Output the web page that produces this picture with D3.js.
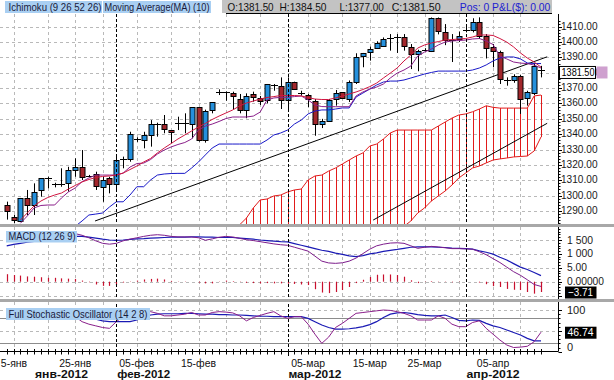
<!DOCTYPE html>
<html><head><meta charset="utf-8">
<script src="https://cdn.jsdelivr.net/npm/d3@7"></script>
<style>body{margin:0;background:#fff}svg{display:block}text{font-family:"Liberation Sans",Arial,sans-serif}</style>
</head><body><svg id="c" width="614" height="380"></svg>
<script>
// ---------------- DATA ----------------
const dates = ["2012-01-13","2012-01-15","2012-01-16","2012-01-17","2012-01-18","2012-01-19","2012-01-20","2012-01-22","2012-01-23","2012-01-24",
"2012-01-25","2012-01-26","2012-01-27","2012-01-29","2012-01-30","2012-01-31","2012-02-01","2012-02-02","2012-02-03","2012-02-05",
"2012-02-06","2012-02-07","2012-02-08","2012-02-09","2012-02-10","2012-02-12","2012-02-13","2012-02-14","2012-02-15","2012-02-16",
"2012-02-17","2012-02-19","2012-02-20","2012-02-21","2012-02-22","2012-02-23","2012-02-24","2012-02-26","2012-02-27","2012-02-28",
"2012-02-29","2012-03-01","2012-03-02","2012-03-04","2012-03-05","2012-03-06","2012-03-07","2012-03-08","2012-03-09","2012-03-11",
"2012-03-12","2012-03-13","2012-03-14","2012-03-15","2012-03-16","2012-03-18","2012-03-19","2012-03-20","2012-03-21","2012-03-22",
"2012-03-23","2012-03-25","2012-03-26","2012-03-27","2012-03-28","2012-03-29","2012-03-30","2012-04-01","2012-04-02","2012-04-03",
"2012-04-04","2012-04-05","2012-04-06","2012-04-08","2012-04-09","2012-04-10","2012-04-11","2012-04-12","2012-04-13"];
const open = [1293.9,1285.9,1283.5,1298.3,1293.9,1303.7,1311.5,1307.6,1307.6,1308.0,
1317.1,1318.8,1312.8,1313.9,1305.8,1311.3,1307.6,1323.7,1323.7,1336.5,
1336.2,1339.5,1346.6,1346.4,1342.7,1347.0,1347.0,1346.4,1357.5,1336.2,
1355.8,1367.6,1367.6,1366.6,1362.7,1355.8,1366.0,1363.4,1362.3,1372.1,
1371.2,1361.8,1374.2,1366.7,1365.7,1361.8,1346.2,1348.8,1362.9,1367.3,
1362.9,1373.8,1390.7,1393.1,1395.9,1397.6,1402.2,1402.9,1403.1,1396.6,
1392.2,1394.5,1394.0,1415.5,1406.3,1401.2,1402.0,1407.8,1407.4,1412.9,
1404.1,1396.6,1393.3,1375.4,1375.3,1378.1,1363.6,1367.3,1381.5];
const high = [1296.1,1287.4,1298.5,1303.7,1308.0,1311.3,1312.3,1308.4,1317.8,1318.8,
1324.3,1329.7,1313.5,1315.6,1312.3,1312.3,1325.4,1325.4,1341.6,1338.0,
1341.6,1349.2,1347.5,1352.5,1342.7,1351.4,1353.6,1357.5,1357.5,1356.0,
1360.8,1369.2,1367.9,1367.7,1366.2,1366.6,1367.7,1364.9,1372.7,1372.7,
1377.0,1377.0,1374.2,1368.3,1366.2,1362.9,1350.0,1362.9,1368.8,1367.3,
1375.0,1392.7,1392.9,1397.0,1400.5,1403.0,1405.2,1405.2,1405.2,1398.7,
1395.0,1396.0,1416.0,1416.0,1411.7,1405.2,1406.9,1410.0,1415.5,1416.1,
1405.2,1398.7,1394.4,1377.0,1379.0,1378.5,1368.3,1386.2,1384.5];
const low = [1284.4,1282.0,1283.0,1287.4,1287.4,1299.3,1304.8,1305.4,1305.8,1302.6,
1312.3,1310.2,1312.0,1303.7,1296.0,1301.5,1302.6,1317.8,1322.1,1335.0,
1330.8,1331.9,1338.4,1340.6,1334.1,1342.7,1340.6,1337.3,1335.2,1334.5,
1353.6,1365.5,1361.8,1355.8,1353.6,1350.4,1361.2,1359.0,1360.0,1368.3,
1356.4,1355.3,1369.4,1365.0,1357.5,1339.0,1344.0,1348.4,1358.6,1362.9,
1361.0,1372.7,1383.6,1387.9,1395.5,1397.0,1394.4,1392.9,1394.4,1382.4,
1381.0,1394.0,1393.5,1405.0,1398.0,1387.0,1400.0,1406.3,1406.3,1402.0,
1389.3,1383.6,1372.7,1371.6,1373.5,1353.2,1358.6,1365.5,1377.0];
const close = [1290.2,1284.1,1298.3,1293.5,1302.6,1311.3,1311.8,1307.8,1307.8,1316.7,
1318.8,1312.3,1312.9,1305.8,1310.2,1307.6,1323.2,1323.9,1340.1,1336.9,
1339.5,1346.4,1346.8,1343.2,1341.6,1347.2,1347.2,1357.5,1335.8,1355.1,
1360.8,1367.8,1367.8,1364.4,1355.8,1365.1,1364.0,1361.4,1372.7,1372.3,
1361.8,1373.8,1369.4,1366.9,1362.9,1346.6,1348.4,1362.3,1366.6,1363.6,
1373.8,1390.0,1392.9,1395.3,1399.2,1402.0,1402.5,1403.1,1397.2,1391.8,
1394.4,1395.0,1415.5,1407.2,1400.9,1401.4,1404.1,1408.1,1412.9,1404.1,
1396.6,1394.0,1375.9,1375.6,1378.1,1362.9,1367.3,1384.6,1381.5];
const ma10 = [null,null,1284.1,1288.7,1293.3,1296.5,1298.8,1300.4,1301.7,1304.3,
1306.6,1308.9,1310.5,1311.8,1312.5,1312.8,1313.4,1314.7,1317.0,1319.3,
1321.9,1324.2,1327.8,1331.0,1333.9,1336.9,1339.5,1342.1,1344.7,1347.0,
1349.6,1351.8,1353.8,1355.8,1358.4,1360.3,1361.6,1362.9,1363.9,1364.5,
1365.2,1365.2,1365.2,1364.9,1363.9,1362.9,1362.6,1362.6,1363.6,1364.9,
1366.2,1367.5,1369.1,1371.0,1373.3,1376.6,1379.8,1383.1,1387.7,1391.6,
1396.1,1398.1,1399.4,1400.3,1401.3,1401.6,1402.0,1402.3,1403.3,1404.6,
1404.6,1404.3,1402.3,1400.0,1396.8,1392.9,1389.6,1387.0,1383.7];
const tenkan = [null,null,1282.0,1286.7,1292.0,1293.6,1293.9,1293.9,1298.5,1302.4,
1305.0,1309.1,1311.5,1313.4,1313.4,1313.4,1313.4,1314.7,1318.6,1320.9,
1321.2,1323.5,1327.1,1329.7,1331.7,1333.3,1334.6,1336.9,1342.7,1345.3,
1346.6,1348.3,1350.2,1351.2,1351.2,1351.2,1351.8,1354.4,1362.3,1363.6,
1364.0,1364.0,1364.5,1364.9,1362.3,1359.0,1358.0,1357.9,1357.9,1357.9,
1357.9,1364.9,1367.5,1369.4,1370.7,1372.7,1376.6,1379.8,1381.8,1384.4,
1390.9,1393.5,1395.5,1398.1,1400.0,1400.7,1401.0,1401.3,1402.0,1402.3,
1400.7,1398.4,1390.9,1389.0,1387.0,1386.3,1386.0,1385.0,1383.1];
const kijun = [null,null,null,null,null,null,null,null,null,null,
1280.0,1283.5,1287.4,1288.0,1288.7,1292.6,1296.0,1296.0,1300.4,1305.8,
1305.8,1310.2,1313.4,1314.1,1314.4,1314.5,1314.5,1318.0,1321.9,1326.5,
1331.0,1333.6,1333.6,1333.6,1333.6,1333.6,1333.6,1333.6,1336.2,1339.5,
1340.8,1342.7,1346.6,1349.2,1353.2,1355.1,1355.8,1355.8,1356.4,1357.1,
1357.1,1364.2,1366.8,1369.4,1372.0,1374.0,1374.6,1374.6,1375.3,1376.6,
1377.9,1379.2,1380.2,1381.1,1381.1,1381.1,1381.1,1381.1,1381.8,1383.1,
1385.1,1387.7,1389.6,1390.3,1390.3,1389.0,1386.4,1386.0,1386.0];
const senkouA = [null,null,null,null,null,null,null,null,null,null,
null,null,null,null,null,null,null,null,null,null,
null,null,null,null,null,null,null,null,null,null,
null,null,null,null,1281.0,1285.4,1292.0,1297.2,1297.8,1299.8,
1300.4,1302.4,1303.7,1304.3,1310.2,1312.8,1313.4,1316.0,1318.0,1320.6,
1323.2,1325.8,1327.8,1332.3,1333.6,1336.9,1340.8,1342.7,1342.7,1342.7,
1342.7,1342.7,1342.7,1345.3,1347.9,1350.5,1352.5,1353.2,1354.6,1356.4,
1358.5,1357.5,1357.0,1357.0,1357.0,1357.0,1357.0,1364.9,1365.5];
const senkouB = [null,null,null,null,null,null,null,null,null,null,
null,null,null,null,null,null,null,null,null,null,
null,null,null,null,null,null,null,null,null,null,
null,null,null,null,1262.0,1263.0,1264.0,1265.0,1266.0,1267.0,
1268.0,1269.0,1270.0,1271.0,1272.0,1272.5,1273.0,1273.5,1274.0,1275.0,
1275.5,1276.0,1276.5,1277.0,1277.5,1278.0,1278.5,1279.0,1280.0,1283.5,
1288.7,1292.0,1296.5,1299.8,1303.0,1306.9,1311.5,1314.7,1318.0,1319.3,
1321.3,1323.2,1323.9,1324.5,1325.2,1325.5,1325.8,1329.1,1338.2];
const trendFrom = [[12.9,1283.5],[53.5,1284.1]];
const trendTo   = [[78.9,1390.4],[78.9,1347.1]];
const macd = [15.6,15.8,16,16.1,16.3,16.5,16.7,16.9,17,17.2,
17.3,16.7,15.8,14.7,13.8,13.5,13.8,14.7,15.3,15.8,
16.3,16.7,16.9,16.7,16.3,16.1,16.1,16.1,15.8,14.9,
15.4,16,16.3,16.1,15.6,15.1,14.8,14.4,14,13.6,
13.3,13.1,12.4,11.7,11,9.2,7.4,6.75,6.6,6.8,
7.4,8.5,10.1,11.7,12.9,13.5,13.9,14,13.8,12.9,
12,12.4,12.7,12.5,12.2,11.9,11.9,11.8,11.7,10.8,
9.7,8.3,6.9,5.25,3.6,2.3,0.7,-1,-1.7];
const signal = [12.9,13.4,13.8,14.2,14.5,14.9,15.3,15.5,15.8,16.1,
16.3,16.3,16,15.7,15.3,15,14.9,15,15.2,15.4,
15.5,15.7,15.8,15.9,16,16,16,16.1,16.1,16,
16,15.9,15.9,15.9,15.7,15.5,15.3,15,14.8,14.6,
14.4,14.3,13.7,13.1,12.5,11.9,11.3,10.9,10.3,9.8,
9.3,9,9.4,10,10.4,10.9,11.3,11.6,12,12.4,
12.5,12.5,12.5,12.4,12.3,12.1,12,11.9,11.7,11.1,
10.6,9.9,8.8,7.8,6.5,5.25,4.4,3.3,2.2];
const hist = [2.7,2.4,2.2,1.9,1.8,1.6,1.4,1.4,1.2,1.1,
1.0,0.4,-0.2,-1.0,-1.5,-1.5,-1.1,-0.3,0.1,0.4,
0.8,1.0,1.1,0.8,0.3,0.1,0.1,0.0,-0.3,-0.6,
-0.6,0.1,0.4,0.2,-0.1,-0.4,-0.5,-0.6,-0.5,-0.6,
-0.6,-0.7,-0.8,-1.0,-1.2,-2.7,-3.9,-4.1,-3.7,-3.0,
-1.9,-0.5,0.7,1.7,2.5,2.6,2.6,2.4,1.8,0.5,
-0.5,-0.1,0.2,0.1,-0.1,-0.2,-0.1,-0.1,0.0,-0.3,
-0.9,-1.6,-1.9,-2.6,-2.9,-3.0,-3.7,-4.3,-3.71];
const stochK = [92,90,92,90,94,94,92,88,86,90,
84,72,66,62,58,56,72,84,92,94,
95,96,92,86,86,88,90,94,88,88,
94,96,95,93,86,74,82,87,92,96,
86,80,84,84,66,42,20,35,58,68,
80,92,94,96,98,100,99,96,92,86,
76,76,76,86,80,66,60,60,70,74,
56,42,28,16,10,11,13,24,46.74];
const stochD = [86,86,87,88,89,90,91,91,90,89,
88,86,82,78,74,72,72,72,72,76,
82,88,90,91,91,91,92,92,91,90,
90,89,89,88,88,87,86,85,85,84,
84,84,84,84,80,72,64,58,54,54,
55,57,60,65,72,82,90,93,94,92,
89,87,86,86,88,82,75,74,76,75,
68,62,58,52,46,40,32,26,26];
const priceTicks = [1290,1300,1310,1320,1330,1340,1350,1360,1370,1380,1390,1400,1410];
const macdTicks = [15,10,5,0];
const macdTickLabels = ["1 500","1 000","5.00","0.00000"];
const stochTicks = [100,0];
const stochTickLabels = ["100","0"];
const gridDates = ["2012-01-15","2012-01-20","2012-01-25","2012-01-30","2012-02-05","2012-02-10","2012-02-15","2012-02-20","2012-02-26",
"2012-03-05","2012-03-11","2012-03-15","2012-03-20","2012-03-25","2012-03-30","2012-04-05","2012-04-10"];
const monthStarts = ["2012-02-01","2012-03-01","2012-04-01"];
const tickDates = ["2012-01-15","2012-01-25","2012-02-05","2012-02-15","2012-03-05","2012-03-15","2012-03-25","2012-04-05"];
const tickLabels = ["5-янв","25-янв","05-фев","15-фев","05-мар","15-мар","25-мар","05-апр"];
const monthLabelDates = ["2012-01-23","2012-02-06","2012-03-06","2012-04-05"];
const monthLabels = ["янв-2012","фев-2012","мар-2012","апр-2012"];
const headerLeft = ["Ichimoku (9 26 52 26)","Moving Average(MA) (10)"];
const ohlcLabels = ["O:1381.50","H:1384.50","L:1377.00","C:1381.50"];
const posLabel = "Pos: 0 P&L($): 0.00";
const lastPrice = 1381.5, lastHist = -3.71, lastK = 46.74;

// ---------------- LAYOUT ----------------
const svg = d3.select("#c");
const PR = 558;
const P = {mainTop:14, mainBot:224, macdTop:227, macdBot:299, stTop:302, stBot:351.7};
const x = d3.scaleLinear().domain([0, dates.length-1]).range([6.7, 541]);
const yM = d3.scaleLinear().domain([1290,1410]).range([211,26.7]);
const yD = d3.scaleLinear().domain([0,15]).range([281.7,240]);
const yS = d3.scaleLinear().domain([0,100]).range([351.7,310]);
const bi = d => dates.indexOf(d);
const cx = i => Math.round(x(i)) + 0.5;

const defs = svg.append("defs");
[["cm",P.mainTop,P.mainBot],["cd",P.macdTop,P.macdBot],["cs",P.stTop,P.stBot+0.5]].forEach(([id,t,b])=>{
  defs.append("clipPath").attr("id",id).append("rect").attr("x",0).attr("y",t).attr("width",PR).attr("height",b-t);
});

function fit(sel, w){ sel.attr("textLength", w).attr("lengthAdjust","spacingAndGlyphs"); return sel; }
function fitF(sel, f){ sel.each(function(){ const w=this.getComputedTextLength(); this.setAttribute("textLength", w*f); this.setAttribute("lengthAdjust","spacingAndGlyphs");}); return sel; }

// panels grid
const grid = svg.append("g");
[[P.mainTop,P.mainBot],[P.macdTop,P.macdBot],[P.stTop,P.stBot]].forEach(([t,b])=>{
  grid.selectAll(null).data(gridDates).enter().append("line")
    .attr("x1",d=>cx(bi(d))).attr("x2",d=>cx(bi(d))).attr("y1",t).attr("y2",b)
    .attr("stroke","#b9b9b9").attr("stroke-dasharray","3,3");
});
grid.selectAll(null).data(priceTicks).enter().append("line")
  .attr("x1",0).attr("x2",PR).attr("y1",d=>Math.round(yM(d))+0.5).attr("y2",d=>Math.round(yM(d))+0.5)
  .attr("stroke","#b9b9b9").attr("stroke-dasharray","3,3");
grid.selectAll(null).data([15,10,5,0,-5]).enter().append("line")
  .attr("x1",0).attr("x2",PR).attr("y1",d=>Math.round(yD(d))+0.5).attr("y2",d=>Math.round(yD(d))+0.5)
  .attr("stroke","#b9b9b9").attr("stroke-dasharray","3,3");
grid.selectAll(null).data([100,50]).enter().append("line")
  .attr("x1",0).attr("x2",PR).attr("y1",d=>Math.round(yS(d))+0.5).attr("y2",d=>Math.round(yS(d))+0.5)
  .attr("stroke","#b9b9b9").attr("stroke-dasharray","3,3");
grid.selectAll(null).data([80,20]).enter().append("line")
  .attr("x1",0).attr("x2",PR).attr("y1",d=>Math.round(yS(d))+0.5).attr("y2",d=>Math.round(yS(d))+0.5)
  .attr("stroke","#8c8c8c").attr("stroke-width",1);

// ---------------- MAIN PANEL ----------------
const gm = svg.append("g").attr("clip-path","url(#cm)");
const cloudIdx = d3.range(dates.length).filter(i=>senkouA[i]!=null && senkouB[i]!=null);
gm.selectAll(null).data(cloudIdx).enter().append("line")
  .attr("x1",i=>cx(i)).attr("x2",i=>cx(i)).attr("y1",i=>yM(senkouA[i])).attr("y2",i=>yM(senkouB[i]))
  .attr("stroke","#e11a1a").attr("stroke-width",1);
const lineOf = (arr, ys) => d3.line().defined(i=>arr[i]!=null).x(i=>x(i)).y(i=>ys(arr[i]));
const all = d3.range(dates.length);
gm.append("path").attr("d",lineOf(senkouA,yM)(all)).attr("fill","none").attr("stroke","#e11a1a").attr("stroke-width",1);
gm.append("path").attr("d",lineOf(senkouB,yM)(all)).attr("fill","none").attr("stroke","#e11a1a").attr("stroke-width",1);
gm.selectAll(null).data(d3.range(trendFrom.length)).enter().append("line")
  .attr("x1",k=>x(trendFrom[k][0])).attr("y1",k=>yM(trendFrom[k][1]))
  .attr("x2",k=>x(trendTo[k][0])).attr("y2",k=>yM(trendTo[k][1]))
  .attr("stroke","#000").attr("stroke-width",1);
const cg = gm.append("g");
all.forEach(i=>{
  const o=open[i], c=close[i], h=high[i], l=low[i];
  const xx = cx(i);
  cg.append("line").attr("x1",xx).attr("x2",xx).attr("y1",yM(h)).attr("y2",yM(l)).attr("stroke","#000").attr("stroke-width",1);
  if (Math.abs(c-o) < 0.6) {
    cg.append("line").attr("x1",xx-3.5).attr("x2",xx+3.5).attr("y1",Math.round(yM(c))+0.5).attr("y2",Math.round(yM(c))+0.5).attr("stroke","#000").attr("stroke-width",1);
  } else {
    const top = yM(Math.max(o,c)), bot = yM(Math.min(o,c));
    cg.append("rect").attr("x",xx-2.5).attr("y",Math.round(top)+0.5).attr("width",5).attr("height",Math.max(1,Math.round(bot-top)))
      .attr("fill", c>o ? "#2590dc" : "#a2272c").attr("stroke","#000").attr("stroke-width",1);
  }
});
gm.append("path").attr("d",lineOf(kijun,yM)(all)).attr("fill","none").attr("stroke","#1818c8").attr("stroke-width",1);
gm.append("path").attr("d",lineOf(tenkan,yM)(all)).attr("fill","none").attr("stroke","#8a1f8a").attr("stroke-width",1);
gm.append("path").attr("d",lineOf(ma10,yM)(all)).attr("fill","none").attr("stroke","#cf1540").attr("stroke-width",1);

// ---------------- MACD PANEL ----------------
const gd = svg.append("g").attr("clip-path","url(#cd)");
gd.selectAll(null).data(all).enter().append("line")
  .attr("x1",i=>cx(i)).attr("x2",i=>cx(i)).attr("y1",yD(0)).attr("y2",i=>yD(hist[i]))
  .attr("stroke","#c8102e").attr("stroke-width",1.2);
gd.append("path").attr("d",lineOf(signal,yD)(all)).attr("fill","none").attr("stroke","#1a1ab4").attr("stroke-width",1.2);
gd.append("path").attr("d",lineOf(macd,yD)(all)).attr("fill","none").attr("stroke","#7d1d8c").attr("stroke-width",1);

// ---------------- STOCH PANEL ----------------
const gs = svg.append("g").attr("clip-path","url(#cs)");
gs.append("path").attr("d",lineOf(stochD,yS)(all)).attr("fill","none").attr("stroke","#1a1ab4").attr("stroke-width",1.2);
gs.append("path").attr("d",lineOf(stochK,yS)(all)).attr("fill","none").attr("stroke","#8a1f8a").attr("stroke-width",1);

svg.selectAll(null).data(monthStarts).enter().append("line")
  .attr("x1",d=>cx(bi(d))).attr("x2",d=>cx(bi(d))).attr("y1",P.mainTop).attr("y2",356)
  .attr("stroke","#000").attr("stroke-dasharray","3,2").attr("stroke-width",1);

svg.append("rect").attr("x",0).attr("y",224).attr("width",614).attr("height",3).attr("fill","#a8a8a8");
svg.append("rect").attr("x",0).attr("y",299).attr("width",614).attr("height",3).attr("fill","#a8a8a8");

const lbl = (x0,y0,w,h,t,tw) => {
  svg.append("rect").attr("x",x0).attr("y",y0).attr("width",w).attr("height",h).attr("fill","#a9cff2");
  fit(svg.append("text").attr("x",x0+2.5).attr("y",y0+h-2.5).attr("font-size",11).attr("fill","#1a1a3a").text(t), tw);
};
lbl(6,231,71,11.5,"MACD (12 26 9)",67);
lbl(6,308,144,12,"Full Stochastic Oscillator (14 2 8)",139);

// ---------------- AXES ----------------
const ax = svg.append("g");
[[P.mainTop,P.mainBot],[P.macdTop,P.macdBot],[P.stTop,P.stBot]].forEach(([t,b])=>{
  ax.append("line").attr("x1",PR+0.5).attr("x2",PR+0.5).attr("y1",t).attr("y2",b).attr("stroke","#000");
});
ax.selectAll(null).data(d3.range(1282,1416,2)).enter().append("line")
  .attr("x1",PR+0.5).attr("x2",d=>d%10===0?PR+4:PR+2.5).attr("y1",d=>Math.round(yM(d))+0.5).attr("y2",d=>Math.round(yM(d))+0.5)
  .attr("stroke","#000");
ax.selectAll(null).data(priceTicks).enter().append("text")
  .attr("x",561).attr("y",d=>yM(d)+3).attr("font-size",11).attr("fill","#1a1a1a").text(d=>d3.format(".2f")(d))
  .call(s=>fit(s,36.5));
const lpY = yM(lastPrice)+1.5;
ax.append("rect").attr("x",559.5).attr("y",lpY-5.5).attr("width",36).attr("height",12).attr("fill","#fff").attr("stroke","#000");
ax.append("rect").attr("x",596.5).attr("y",lpY-5.5).attr("width",11).attr("height",12).attr("fill","#cfa0cf");
fit(ax.append("text").attr("x",561.5).attr("y",lpY+4).attr("font-size",11).attr("fill","#000").text(d3.format(".2f")(lastPrice)),33);
ax.selectAll(null).data(d3.range(-5,20,1)).enter().append("line")
  .attr("x1",PR+0.5).attr("x2",d=>d%5===0?PR+4:PR+2.5).attr("y1",d=>Math.round(yD(d))+0.5).attr("y2",d=>Math.round(yD(d))+0.5)
  .attr("stroke","#000");
ax.selectAll(null).data(macdTicks).enter().append("text")
  .attr("x",567).attr("y",d=>yD(d)+3.5).attr("font-size",11).attr("fill","#1a1a1a").text((d,k)=>macdTickLabels[k])
  .each(function(d,k){ const w=[26,26,20,37][k]; this.setAttribute("textLength",w); this.setAttribute("lengthAdjust","spacingAndGlyphs");});
const hb = yD(lastHist);
ax.append("rect").attr("x",565).attr("y",hb-5.5).attr("width",31.5).attr("height",12).attr("fill","#000");
fit(ax.append("text").attr("x",580.5).attr("y",hb+4).attr("text-anchor","middle").attr("font-size",11).attr("fill","#fff").text(d3.format(".2f")(lastHist)),25);
ax.selectAll(null).data(d3.range(0,101,10)).enter().append("line")
  .attr("x1",PR+0.5).attr("x2",d=>d%50===0?PR+4:PR+2.5).attr("y1",d=>Math.round(yS(d))+0.5).attr("y2",d=>Math.round(yS(d))+0.5)
  .attr("stroke","#000");
ax.selectAll(null).data(stochTicks).enter().append("text")
  .attr("x",567).attr("y",d=>d===0?yS(d)-0.5:yS(d)+3.5).attr("font-size",11).attr("fill","#1a1a1a").text((d,k)=>stochTickLabels[k]);
const kb = yS(lastK);
ax.append("rect").attr("x",565).attr("y",kb-5.5).attr("width",31.5).attr("height",12).attr("fill","#000");
fit(ax.append("text").attr("x",580.5).attr("y",kb+4).attr("text-anchor","middle").attr("font-size",11).attr("fill","#fff").text(d3.format(".2f")(lastK)),26);

ax.append("line").attr("x1",0).attr("x2",PR).attr("y1",351.5).attr("y2",351.5).attr("stroke","#000");
ax.selectAll(null).data(all).enter().append("line")
  .attr("x1",i=>cx(i)).attr("x2",i=>cx(i)).attr("y1",349).attr("y2",354.5).attr("stroke","#000");
ax.selectAll(null).data(tickDates).enter().append("text")
  .attr("x",d=>Math.max(x(bi(d)), 14)).attr("y",366.5).attr("text-anchor","middle").attr("font-size",11).attr("fill","#111")
  .text((d,k)=>tickLabels[k]).call(s=>fitF(s,0.95));
ax.selectAll(null).data(monthLabelDates).enter().append("text")
  .attr("x",d=>x(bi(d))).attr("y",377.5).attr("text-anchor","middle").attr("font-size",11.5).attr("font-weight","bold").attr("fill","#111")
  .text((d,k)=>monthLabels[k]).call(s=>fit(s,53));

// ---------------- HEADER ----------------
svg.append("rect").attr("x",5).attr("y",1).attr("width",97).attr("height",12).attr("fill","#a9cff2");
fit(svg.append("text").attr("x",8.5).attr("y",11).attr("font-size",11).attr("fill","#1a1a3a").text(headerLeft[0]),93);
svg.append("rect").attr("x",103).attr("y",1).attr("width",108).attr("height",12).attr("fill","#a9cff2");
fit(svg.append("text").attr("x",104.5).attr("y",11).attr("font-size",11).attr("fill","#1a1a3a").text(headerLeft[1]),105);
svg.append("rect").attr("x",222).attr("y",0).attr("width",330).attr("height",13).attr("fill","#c3c3c3");
svg.append("line").attr("x1",226).attr("x2",552).attr("y1",13.5).attr("y2",13.5).attr("stroke","#000");
const ohlcX = [227.6,279.5,339.4,391.7], ohlcW = [46,47,44.5,49];
ohlcLabels.forEach((t,k)=>fit(svg.append("text").attr("x",ohlcX[k]).attr("y",11).attr("font-size",11).attr("fill","#111").text(t),ohlcW[k]));
fit(svg.append("text").attr("x",459.8).attr("y",11).attr("font-size",11).attr("fill","#2020d0").text(posLabel),90.6);
</script></body></html>
